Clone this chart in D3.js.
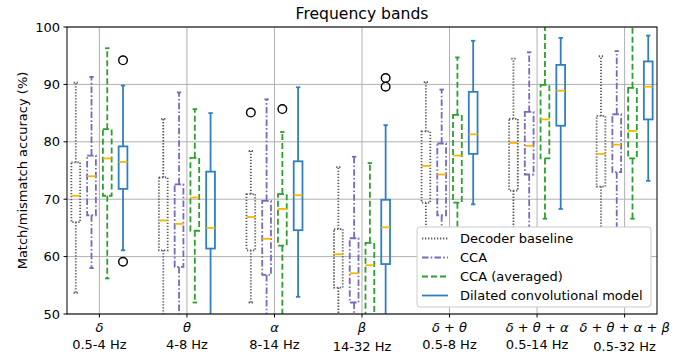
<!DOCTYPE html>
<html><head><meta charset="utf-8">
<script src="https://cdn.jsdelivr.net/npm/d3@7"></script>
<style>body{margin:0;background:#fff}text{font-family:"DejaVu Sans",sans-serif;fill:#000}</style>
</head><body><svg id="c" width="689" height="358"></svg>
<script>
const groupSymbols = [["δ"],["θ"],["α"],["β"],["δ","θ"],["δ","θ","α"],["δ","θ","α","β"]];
const bandLabels = ["0.5-4 Hz","4-8 Hz","8-14 Hz","14-32 Hz","0.5-8 Hz","0.5-14 Hz","0.5-32 Hz"];
const methods = ["Decoder baseline","CCA","CCA (averaged)","Dilated convolutional model"];
const yTicks = [50,60,70,80,90,100];

const decoderLow  = [53.7, 48.0, 52.0, 48.0, 56.0, 58.0, 58.0];
const decoderQ1   = [66.0, 61.1, 61.1, 54.6, 69.4, 71.5, 72.2];
const decoderMed  = [70.6, 66.3, 66.9, 60.4, 75.8, 79.8, 77.9];
const decoderQ3   = [76.4, 73.8, 70.9, 64.8, 81.8, 84.0, 84.5];
const decoderHigh = [90.3, 84.0, 78.4, 75.6, 90.4, 94.5, 94.9];

const ccaLow  = [58.0, 48.0, 48.0, 48.0, 56.0, 62.0, 62.0];
const ccaQ1   = [67.2, 58.2, 56.8, 52.0, 67.2, 74.3, 74.7];
const ccaMed  = [74.0, 65.7, 63.1, 57.1, 74.3, 79.3, 79.5];
const ccaQ3   = [77.6, 72.6, 69.7, 63.2, 79.7, 85.2, 84.8];
const ccaHigh = [91.3, 88.6, 87.4, 77.4, 89.1, 95.6, 95.8];

const ccaAvgLow  = [56.2, 52.0, 48.0, 48.0, 58.0, 66.6, 66.6];
const ccaAvgQ1   = [70.6, 64.5, 61.9, 48.0, 69.4, 77.1, 77.1];
const ccaAvgMed  = [77.1, 70.3, 68.3, 58.5, 77.6, 83.9, 81.9];
const ccaAvgQ3   = [82.2, 77.2, 70.9, 62.4, 84.7, 89.9, 89.4];
const ccaAvgHigh = [96.3, 85.7, 81.7, 76.3, 94.7, 101.0, 101.0];

const dilLow  = [61.1, 48.0, 53.0, 48.0, 69.1, 68.3, 73.2];
const dilQ1   = [71.8, 61.4, 64.6, 58.7, 77.9, 82.8, 83.9];
const dilMed  = [76.5, 65.0, 70.7, 65.1, 81.3, 88.9, 89.6];
const dilQ3   = [79.2, 74.8, 76.6, 69.9, 88.7, 93.4, 94.0];
const dilHigh = [89.8, 85.0, 89.5, 82.9, 97.6, 98.1, 98.5];

const outlierGroup  = [2, 2, 0, 0, 3, 3];
const outlierMethod = [0, 2, 3, 3, 3, 3];
const outlierValue  = [85.1, 85.7, 94.2, 59.1, 91.1, 89.6];

const series = [
  {low: decoderLow, q1: decoderQ1, med: decoderMed, q3: decoderQ3, high: decoderHigh},
  {low: ccaLow, q1: ccaQ1, med: ccaMed, q3: ccaQ3, high: ccaHigh},
  {low: ccaAvgLow, q1: ccaAvgQ1, med: ccaAvgMed, q3: ccaAvgQ3, high: ccaAvgHigh},
  {low: dilLow, q1: dilQ1, med: dilMed, q3: dilQ3, high: dilHigh}
];
const colors = ["#5a5a5a","#7a68bc","#2ca02c","#2f7fc1"];
const dashes = ["1.3,1.7","6.5,2.2,1.6,2.2","6,3",null];
const offsets = [-0.27,-0.09,0.09,0.27];
const boxW = 0.1, medColor = "#f5b800", lw = 1.8;

const L = 67, R = 657, T = 27, B = 314;
const svg = d3.select("#c");
const x = d3.scaleLinear().domain([0.63, 7.37]).range([L, R]);
const y = d3.scaleLinear().domain([50, 100]).range([B, T]);

svg.append("defs").append("clipPath").attr("id","clip")
  .append("rect").attr("x",L).attr("y",T).attr("width",R-L).attr("height",B-T);

// grid
const grid = svg.append("g").attr("stroke","#b0b0b0").attr("stroke-width",1);
yTicks.forEach(t => grid.append("line").attr("x1",L).attr("x2",R).attr("y1",y(t)).attr("y2",y(t)));
groupSymbols.forEach((g,i) => grid.append("line").attr("x1",x(i+1)).attr("x2",x(i+1)).attr("y1",T).attr("y2",B));

const plot = svg.append("g").attr("clip-path","url(#clip)");
series.forEach((s,m) => {
  s.med.forEach((_,i) => {
    const cx = x(i+1+offsets[m]);
    const hw = (x(boxW) - x(0))/2;
    const g = plot.append("g").attr("stroke",colors[m]).attr("stroke-width",lw).attr("fill","none");
    if (dashes[m]) g.attr("stroke-dasharray",dashes[m]);
    g.append("line").attr("x1",cx).attr("x2",cx).attr("y1",y(s.q3[i])).attr("y2",y(s.high[i]));
    g.append("line").attr("x1",cx).attr("x2",cx).attr("y1",y(s.q1[i])).attr("y2",y(s.low[i]));
    g.append("line").attr("x1",cx-hw/2).attr("x2",cx+hw/2).attr("y1",y(s.high[i])).attr("y2",y(s.high[i])).attr("stroke-dasharray",null);
    g.append("line").attr("x1",cx-hw/2).attr("x2",cx+hw/2).attr("y1",y(s.low[i])).attr("y2",y(s.low[i])).attr("stroke-dasharray",null);
    g.append("rect").attr("x",cx-hw).attr("width",2*hw).attr("y",y(s.q3[i])).attr("height",y(s.q1[i])-y(s.q3[i]));
    plot.append("line").attr("x1",cx-hw).attr("x2",cx+hw).attr("y1",y(s.med[i])).attr("y2",y(s.med[i]))
      .attr("stroke",medColor).attr("stroke-width",lw);
  });
});
outlierValue.forEach((v,k) => {
  plot.append("circle").attr("cx",x(outlierGroup[k]+1+offsets[outlierMethod[k]])).attr("cy",y(v)).attr("r",4.3)
    .attr("fill","none").attr("stroke","#000").attr("stroke-width",1.4);
});

// spines
svg.append("rect").attr("x",L).attr("y",T).attr("width",R-L).attr("height",B-T)
  .attr("fill","none").attr("stroke","#000").attr("stroke-width",1);

// y axis
const ya = svg.append("g");
yTicks.forEach(t => {
  ya.append("line").attr("x1",L-3.5).attr("x2",L).attr("y1",y(t)).attr("y2",y(t)).attr("stroke","#000");
  ya.append("text").attr("x",L-7).attr("y",y(t)).attr("dy","0.35em").attr("text-anchor","end")
    .attr("font-size",13).text(t);
});
svg.append("text").attr("transform",`translate(22,${(T+B)/2}) rotate(-90)`).attr("text-anchor","middle")
  .attr("dy","0.35em").attr("font-size",13).text("Match/mismatch accuracy (%)");

// x axis
groupSymbols.forEach((syms,i) => {
  const cx = x(i+1);
  svg.append("line").attr("x1",cx).attr("x2",cx).attr("y1",B).attr("y2",B+3.5).attr("stroke","#000");
  const t1 = svg.append("text").attr("x",cx).attr("y",332).attr("text-anchor","middle").attr("font-size",13);
  syms.forEach((s,k) => {
    if (k>0) t1.append("tspan").text(" + ");
    t1.append("tspan").attr("font-style","italic").text(s);
  });
  const hasBeta = syms.includes("β");
  svg.append("text").attr("x",cx).attr("y",hasBeta?350.5:348.5).attr("text-anchor","middle").attr("font-size",13).text(bandLabels[i]);
});

// title
svg.append("text").attr("x",(L+R)/2).attr("y",19).attr("text-anchor","middle").attr("font-size",15.6).text("Frequency bands");

// legend
const lg = svg.append("g");
lg.append("rect").attr("x",417).attr("y",227).attr("width",234).attr("height",80).attr("rx",3)
  .attr("fill","#fff").attr("stroke","#cccccc").attr("stroke-width",1);
methods.forEach((name,m) => {
  const ly = 238.5 + 19*m;
  const ln = lg.append("line").attr("x1",422).attr("x2",448).attr("y1",ly).attr("y2",ly)
    .attr("stroke",colors[m]).attr("stroke-width",lw);
  if (dashes[m]) ln.attr("stroke-dasharray",dashes[m]);
  lg.append("text").attr("x",460).attr("y",ly).attr("dy","0.35em").attr("font-size",13).text(name);
});
</script></body></html>
